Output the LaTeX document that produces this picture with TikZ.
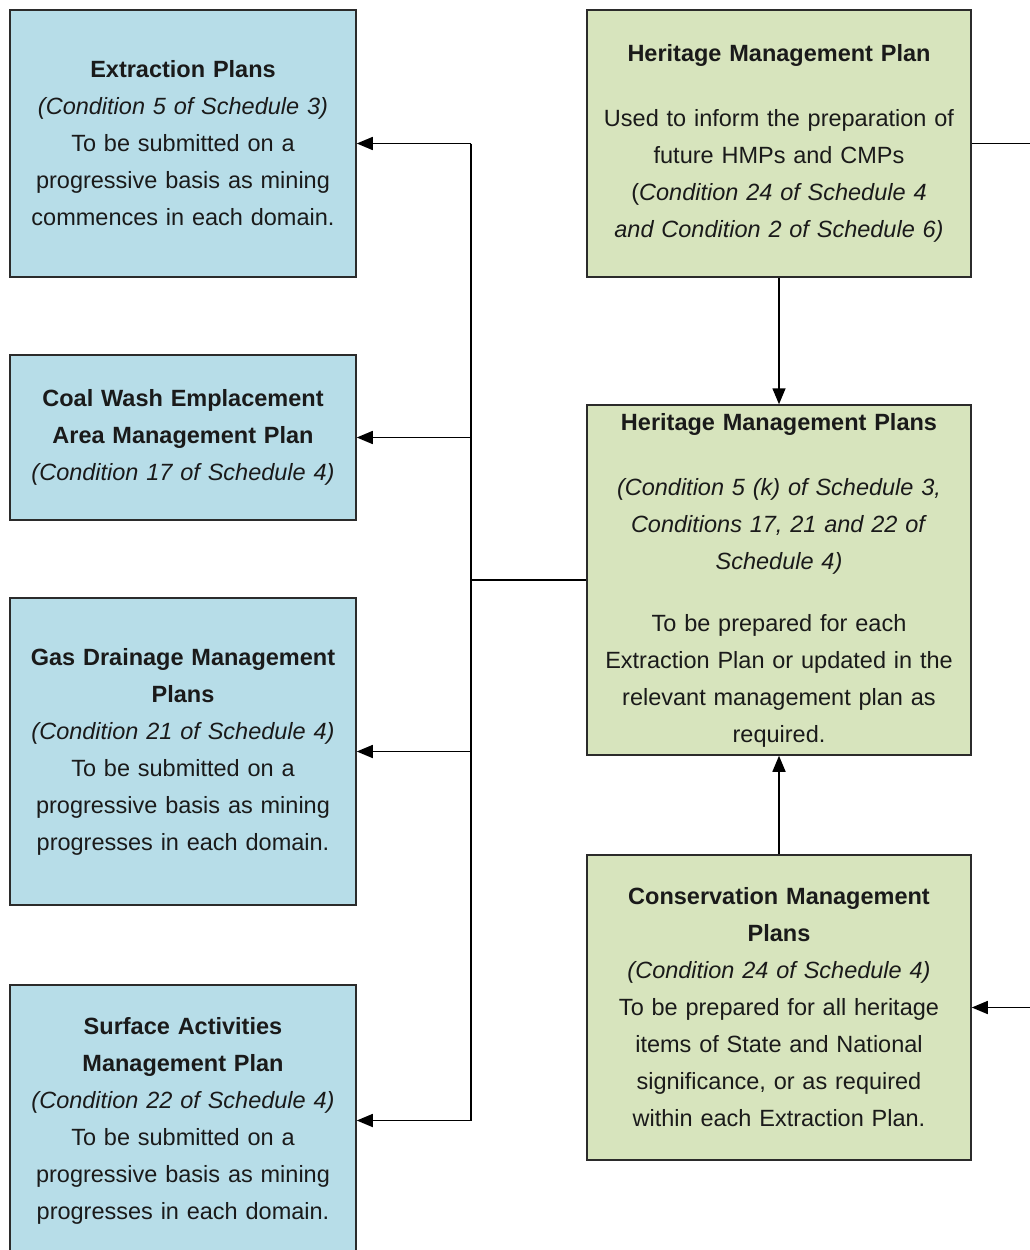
\documentclass[tikz,border=0pt]{standalone}
\usepackage{fontspec}
\setmainfont{Liberation Sans}
\usetikzlibrary{arrows.meta, positioning, calc}
\definecolor{planblue}{HTML}{B7DDE8}
\definecolor{plangreen}{HTML}{D7E4BD}
\definecolor{edgegray}{HTML}{2B2B2B}
\definecolor{textgray}{HTML}{1A1A1A}

\tikzset{
  planbox/.style={draw=edgegray, line width=1.5pt, align=center, inner sep=0pt,
    text=textgray, font=\fontsize{23.5}{37}\selectfont},
  bluebox/.style={planbox, fill=planblue, minimum width=346pt, text width=340pt},
  greenbox/.style={planbox, fill=plangreen, minimum width=384pt, text width=380pt},
  link/.style={line width=1.5pt, draw=black},
  arrowlink/.style={link, -{Triangle[length=16pt,width=13pt]}}
}

\begin{document}
\begin{tikzpicture}[x=1pt, y=-1pt]
\fill[white] (0,0) rectangle (1029,1250);
\useasboundingbox (0,0) rectangle (1029,1250);

% Left column: plans informed by the HMPs
\node[bluebox, minimum height=267pt] (ext) at (183,143.5) {\textbf{Extraction Plans}\\
  \textit{(Condition 5 of Schedule 3)}\\
  To be submitted on a\\
  progressive basis as mining\\
  commences in each domain.};
\node[bluebox, minimum height=165pt] (coal) at (183,437.5) {\textbf{Coal Wash Emplacement}\\
  \textbf{Area Management Plan}\\
  \textit{(Condition 17 of Schedule 4)}};
\node[bluebox, minimum height=307pt] (gas) at (183,751.5) {\textbf{Gas Drainage Management}\\
  \textbf{Plans}\\
  \textit{(Condition 21 of Schedule 4)}\\
  To be submitted on a\\
  progressive basis as mining\\
  progresses in each domain.};
\node[bluebox, minimum height=271pt] (surf) at (183,1120.5) {\textbf{Surface Activities}\\
  \textbf{Management Plan}\\
  \textit{(Condition 22 of Schedule 4)}\\
  To be submitted on a\\
  progressive basis as mining\\
  progresses in each domain.};

% Right column: heritage plans
\node[greenbox, minimum height=267pt] (hmp) at (779,143.5) {\textbf{Heritage Management Plan}\\[28pt]
  Used to inform the preparation of\\
  future HMPs and CMPs\\
  (\textit{Condition 24 of Schedule 4}\\
  \textit{and Condition 2 of Schedule 6)}};
\node[greenbox, minimum height=350pt] (hmps) at (779,580) {\textbf{Heritage Management Plans}\\[28pt]
  \textit{(Condition 5 (k) of Schedule 3,}\\
  \textit{Conditions 17, 21 and 22 of}\\
  \textit{Schedule 4)}\\[25pt]
  To be prepared for each\\
  Extraction Plan or updated in the\\
  relevant management plan as\\
  required.};
\node[greenbox, minimum height=305pt] (cmp) at (779,1007.5) {\textbf{Conservation Management}\\
  \textbf{Plans}\\
  \textit{(Condition 24 of Schedule 4)}\\
  To be prepared for all heritage\\
  items of State and National\\
  significance, or as required\\
  within each Extraction Plan.};

% Connectors
\coordinate (bus) at (471,0);
\coordinate (loop) at (1034,143.5);
\draw[link] (hmps.west) -- (hmps.west -| bus);
\draw[link] (ext.east -| bus) -- (surf.east -| bus);
\foreach \n in {ext,coal,gas,surf}
  \draw[arrowlink] (\n.east -| bus) -- (\n.east);
\draw[arrowlink] (hmp.south) -- (hmps.north);
\draw[arrowlink] (cmp.north) -- (hmps.south);
\draw[arrowlink] (hmp.east) -- (loop) |- (cmp.east);
\end{tikzpicture}
\end{document}
